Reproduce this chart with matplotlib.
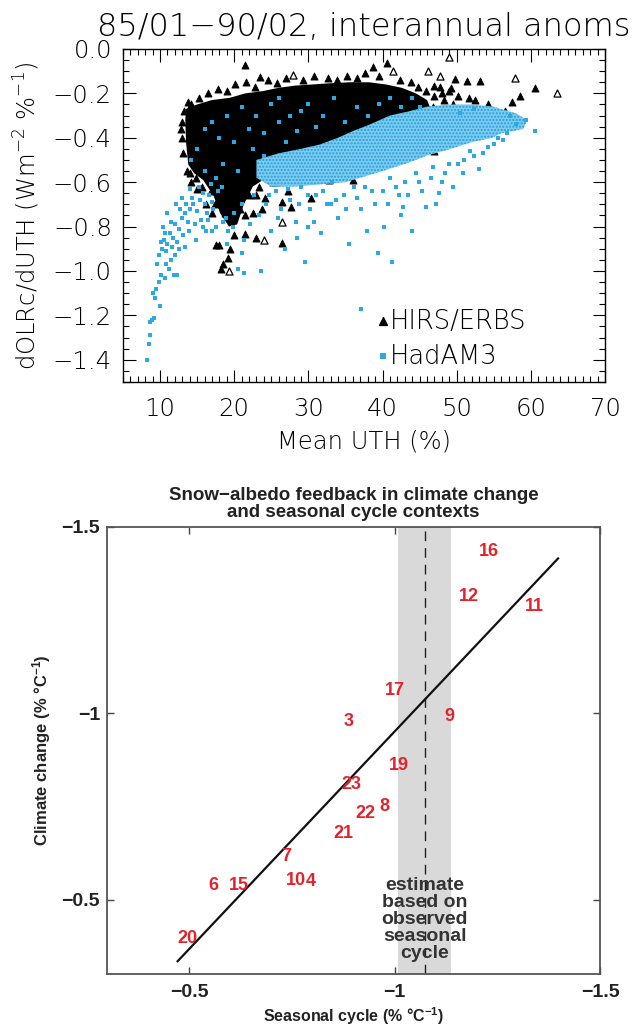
import numpy as np
import matplotlib
matplotlib.use("Agg")
import matplotlib.pyplot as plt
from matplotlib.patches import Polygon

plt.rcParams["mathtext.default"] = "regular"

# ---------------- top panel data ----------------
# outline of the dense HIRS/ERBS cloud (Mean UTH %, dOLRc/dUTH)
hirs_core_x = [13.4, 13.5, 15.0, 17.0, 19.4, 21.5, 23.8, 26.0, 28.2, 30.5, 32.6, 35.5, 38.2,
               40.5, 42.6, 44.5, 46.0, 46.5, 45.5, 43.0, 40.0, 36.0, 33.0, 30.0, 27.1, 24.8,
               22.5, 21.3, 20.4, 19.3, 18.1, 17.2, 15.8, 14.6, 13.8, 13.5]
hirs_core_y = [-0.32, -0.27, -0.25, -0.23, -0.22, -0.20, -0.19, -0.175, -0.165, -0.16, -0.155,
               -0.15, -0.15, -0.16, -0.175, -0.20, -0.23, -0.27, -0.31, -0.34, -0.38, -0.42,
               -0.45, -0.48, -0.52, -0.57, -0.62, -0.70, -0.79, -0.80, -0.74, -0.66, -0.59,
               -0.56, -0.52, -0.42]
# individual HIRS/ERBS triangles outside the dense cloud (filled)
hirs_x = [21.4, 23.5, 32.6, 38.7, 40.6, 49.8, 51.4, 53.1, 58.6, 60.5, 52.5, 53.6, 49.2, 46.9, 47.8,
          46.9, 51.7, 45.6, 36.0, 32.6, 27.7, 26.5, 22.9, 21.5, 19.4, 18.0, 17.6, 19.1, 18.5,
          20.0, 21.5, 23.7, 24.2, 26.5, 30.4, 32.8, 38.2, 40.9, 27.2, 18.2,
          14.2, 15.3, 16.5, 17.8, 19.0, 20.1, 21.6, 22.8, 24.5, 25.8, 27.0, 29.3, 30.8, 33.8,
          35.2, 36.5, 37.6, 39.5, 42.3, 43.8, 44.8, 45.8, 47.0, 48.3, 49.5, 50.8, 47.5, 46.2,
          45.3, 44.2, 48.8, 52.0, 53.2, 55.0, 13.0, 12.9, 13.1, 13.6, 14.2, 15.0, 16.2, 17.0,
          34.5, 36.8, 39.0, 41.5, 43.0, 29.0, 31.5, 25.5, 23.0, 42.0, 44.5, 37.5, 35.0,
          14.0, 14.8, 15.6, 16.8, 17.4, 18.8, 20.8, 22.0, 23.4, 25.2, 26.0, 28.4, 29.8, 31.2,
          33.6, 34.8, 37.0, 38.8, 40.2, 41.8, 43.6, 45.2, 46.8, 48.0, 49.0, 50.2, 51.6, 54.2,
          56.5, 57.4, 12.8, 13.2, 13.8, 29.5, 22.5, 19.8]
hirs_y = [-0.072, -0.127, -0.13, -0.079, -0.064, -0.135, -0.144, -0.144, -0.214, -0.177, -0.23,
          -0.274, -0.176, -0.165, -0.17, -0.46, -0.27, -0.30, -0.59, -0.54, -0.71, -0.875, -0.85,
          -0.835, -0.90, -0.885, -0.885, -0.94, -0.97, -0.84, -0.75, -0.72, -0.67, -0.69, -0.67,
          -0.59, -0.51, -0.46, -0.64, -0.99,
          -0.25, -0.22, -0.20, -0.18, -0.19, -0.16, -0.15, -0.17, -0.14, -0.155, -0.13, -0.14,
          -0.12, -0.14, -0.12, -0.13, -0.11, -0.12, -0.14, -0.15, -0.17, -0.19, -0.21, -0.23,
          -0.25, -0.27, -0.29, -0.33, -0.36, -0.39, -0.30, -0.30, -0.33, -0.30, -0.33, -0.40,
          -0.47, -0.55, -0.60, -0.63, -0.70, -0.74,
          -0.47, -0.44, -0.45, -0.40, -0.42, -0.55, -0.52, -0.60, -0.66, -0.36, -0.34, -0.49, -0.53,
          -0.56, -0.58, -0.62, -0.64, -0.70, -0.74, -0.72, -0.66, -0.62, -0.60, -0.57, -0.56,
          -0.52, -0.50, -0.48, -0.56, -0.46, -0.42, -0.40, -0.37, -0.35, -0.30, -0.26, -0.20,
          -0.19, -0.21, -0.22, -0.25, -0.28, -0.24, -0.36, -0.28, -0.24, -0.48, -0.74, -0.66]
# open HIRS/ERBS triangles
hirs_open_x = [27.9, 41.4, 46.1, 47.8, 48.9, 57.8, 63.5, 26.5, 19.3, 24.0]
hirs_open_y = [-0.117, -0.099, -0.10, -0.121, -0.035, -0.13, -0.199, -0.78, -1.00, -0.86]

# outline of the dense HadAM3 band
had_band_x = [23.0, 26.0, 29.0, 31.6, 34.0, 36.0, 38.3, 41.0, 43.7, 46.0, 49.0, 52.0, 55.0, 58.0,
              59.5, 59.0, 56.0, 54.8, 52.0, 49.2, 46.0, 43.7, 40.0, 38.0, 35.0, 31.6, 28.0, 25.0, 23.0]
had_band_y = [-0.50, -0.47, -0.45, -0.43, -0.40, -0.37, -0.34, -0.30, -0.28, -0.26, -0.25, -0.25,
              -0.26, -0.29, -0.32, -0.36, -0.38, -0.40, -0.42, -0.45, -0.48, -0.51, -0.55, -0.57,
              -0.60, -0.61, -0.62, -0.62, -0.58]
# individual HadAM3 points outside the dense band
had_x = [8.3, 8.5, 8.7, 8.6, 8.9, 9.2, 9.1, 9.4, 9.8, 10.1, 10.6, 11.2, 11.9, 12.3, 10.0, 9.3,
         9.8, 10.2, 10.5, 11.0, 11.3, 11.8, 12.0, 12.6, 12.9, 13.3, 13.7, 14.1, 14.5, 15.0, 15.4,
         16.0, 16.6, 17.2, 13.0, 14.0, 15.2, 11.0, 12.2, 10.4, 16.5, 17.8,
         18.5, 19.2, 20.0, 21.0, 21.3, 22.1, 22.6, 23.4, 23.6, 24.3, 25.0, 25.6, 26.3, 26.9, 27.5,
         28.3, 29.0, 29.6, 30.2, 31.0, 31.7, 32.5, 33.2, 34.0, 34.8, 35.5, 36.2, 37.1, 37.9, 38.6,
         39.4, 40.2, 40.8, 41.3, 41.8, 42.5, 43.4, 44.0, 44.9, 45.8, 46.5, 47.6, 48.4, 49.5, 50.2,
         51.0, 52.3, 53.0, 54.2, 55.6, 56.8, 58.0, 59.3, 60.5, 57.2, 37.1, 20.5, 21.3,
         20.0, 22.0, 24.0, 26.0, 18.0, 23.0, 27.0, 16.0, 25.0, 29.0, 31.0, 45.0, 50.4, 52.3,
         19.0, 21.0, 17.0, 14.8, 33.0, 28.5, 30.0, 12.5, 11.5, 10.8, 15.8,
         15.0, 17.0, 19.0, 21.0, 22.5, 24.0, 26.0, 27.5, 28.5, 30.0, 32.0, 33.5, 35.0, 36.5,
         38.0, 39.5, 41.0, 42.5, 44.0, 18.5, 16.0, 20.5, 14.2,
         10.8, 11.6, 12.3, 13.1, 13.9, 14.7, 15.5, 16.3, 17.0, 12.7, 13.5, 14.3, 15.8, 16.9,
         17.6, 18.3, 11.5, 10.7, 10.1, 9.6, 12.0, 13.4, 14.8, 16.2, 17.5, 18.9, 19.9,
         24.7, 25.9, 27.2, 28.7, 29.9, 30.8, 32.0, 33.7, 35.1, 36.6, 37.6, 39.0, 40.0, 41.0,
         42.2, 43.0, 44.5, 45.3, 46.8, 48.0, 49.0, 50.8, 51.8, 53.5, 55.0, 56.3, 47.2, 42.8]
had_y = [-1.40, -1.33, -1.29, -1.23, -1.22, -1.21, -1.10, -1.08, -1.05, -1.02, -1.03, -0.99,
         -1.02, -1.02, -1.16, -1.12,
         -0.93, -0.90, -0.86, -0.88, -0.83, -0.85, -0.79, -0.81, -0.76, -0.74, -0.78, -0.72, -0.70,
         -0.73, -0.68, -0.70, -0.66, -0.72, -0.67, -0.63, -0.62, -0.74, -0.70, -0.80, -0.77, -0.64,
         -0.78, -0.82, -0.74, -0.70, -0.86, -0.79, -0.66, -0.75, -1.00, -0.70, -0.82, -0.64, -0.72,
         -0.90, -0.68, -0.78, -0.62, -0.96, -0.72, -0.66, -0.83, -0.70, -0.60, -0.76, -0.66, -0.88,
         -0.62, -0.72, -0.82, -0.64, -0.92, -0.80, -0.70, -0.96, -0.62, -0.75, -0.66, -0.82, -0.60,
         -0.71, -0.58, -0.65, -0.56, -0.62, -0.52, -0.50, -0.48, -0.54, -0.44, -0.40, -0.38, -0.34,
         -0.32, -0.37, -0.30, -1.17, -0.99, -1.01,
         -0.42, -0.36, -0.48, -0.33, -0.40, -0.30, -0.42, -0.36, -0.25, -0.28, -0.35, -0.26, -0.29,
         -0.27, -0.88, -0.92, -0.82, -0.86, -0.70, -0.85, -0.80, -0.90, -0.95, -0.97, -0.80,
         -0.45, -0.33, -0.30, -0.26, -0.45, -0.38, -0.22, -0.30, -0.37, -0.25, -0.30, -0.22, -0.33,
         -0.26, -0.30, -0.25, -0.22, -0.26, -0.22, -0.52, -0.55, -0.55, -0.50,
         -0.91, -0.89, -0.87, -0.84, -0.82, -0.79, -0.77, -0.74, -0.69, -0.72, -0.70, -0.67, -0.65,
         -0.61, -0.58, -0.62, -0.78, -0.83, -0.87, -0.97, -0.93, -0.89, -0.86, -0.82, -0.80, -0.76,
         -0.80,
         -0.66, -0.76, -0.63, -0.70, -0.66, -0.78, -0.64, -0.68, -0.72, -0.67, -0.62, -0.70, -0.64,
         -0.58, -0.66, -0.60, -0.56, -0.64, -0.53, -0.60, -0.52, -0.56, -0.46, -0.47, -0.43, -0.41,
         -0.70, -0.71]

# ---------------- bottom panel data ----------------
models = ["16", "12", "11", "17", "3", "9", "19", "23", "22", "8", "21", "7", "10", "4", "6", "15", "20"]
seasonal = [-1.23, -1.18, -1.34, -1.00, -0.887, -1.133, -1.011, -0.895, -0.930, -0.976, -0.875,
            -0.737, -0.760, -0.797, -0.558, -0.622, -0.495]
climate = [-1.434, -1.312, -1.285, -1.061, -0.979, -0.991, -0.861, -0.809, -0.730, -0.750, -0.678,
           -0.615, -0.552, -0.550, -0.538, -0.538, -0.395]
fit_x = [-0.472, -1.398]
fit_y = [-0.335, -1.415]
obs_low, obs_best, obs_high = -1.008, -1.073, -1.137

BLUE = "#2aa9e4"
RED = "#e3232b"

fig = plt.figure(figsize=(6.41, 10.29), dpi=100)

# ================= top panel =================
tf = ["DejaVu Sans"]
ax1 = fig.add_axes([0.1919, 0.6288, 0.7519, 0.3236])
ax1.fill(hirs_core_x, hirs_core_y, color="black", lw=0, zorder=1)
ax1.scatter(hirs_x, hirs_y, marker="^", s=26, c="black", lw=0.6, edgecolors="black", zorder=2)
ax1.add_patch(Polygon(np.column_stack([had_band_x, had_band_y]), closed=True,
                      facecolor="#7fcbef", edgecolor="#1f9fdc", hatch=".....", lw=0, zorder=3))
ax1.scatter(hirs_open_x, hirs_open_y, marker="^", s=26, facecolors="white",
            edgecolors="black", lw=0.9, zorder=4)
ax1.scatter(had_x, had_y, marker="s", s=6, c=BLUE, lw=0, zorder=5)

ax1.set_xlim(5, 70)
ax1.set_ylim(-1.5, 0.0)
ax1.set_xticks(np.arange(10, 71, 10))
ax1.set_xticks(np.arange(5, 71, 1), minor=True)
yt = [-1.4, -1.2, -1.0, -0.8, -0.6, -0.4, -0.2, 0.0]
ax1.set_yticks(yt)
ax1.set_yticks(np.arange(-1.5, 0.01, 0.05), minor=True)
ax1.set_yticklabels(["0.0" if v == 0 else "\u2212%.1f" % abs(v) for v in yt])
ax1.tick_params(which="both", direction="in", top=True, right=True, width=0.8)
ax1.tick_params(which="major", length=9)
ax1.tick_params(which="minor", length=4.5)
ax1.tick_params(axis="y", pad=8)
ax1.tick_params(axis="x", pad=11)
for lab in ax1.get_xticklabels() + ax1.get_yticklabels():
    lab.set_fontfamily(tf)
    lab.set_fontsize(17.5)
    lab.set_fontweight("light")
for s in ax1.spines.values():
    s.set_linewidth(1.0)
ax1.set_title("85/01\u221290/02, interannual anoms", fontsize=23, family=tf,
              fontweight="light", pad=9, x=0.5)
ax1.set_xlabel("Mean UTH (%)", fontsize=17.5, family=tf, fontweight="light", labelpad=6)
ax1.set_ylabel("dOLRc/dUTH (Wm$^{-2}$ %$^{-1}$)", fontsize=17.5, family=tf,
               fontweight="light", labelpad=8)
# legend
ax1.scatter([40.1], [-1.227], marker="^", s=32, c="black", zorder=6)
ax1.text(41.0, -1.227, "HIRS/ERBS", fontsize=18.5, family=tf, fontweight="light", va="center")
ax1.scatter([40.1], [-1.384], marker="s", s=22, c=BLUE, lw=0, zorder=6)
ax1.text(41.0, -1.384, "HadAM3", fontsize=18.5, family=tf, fontweight="light", va="center")

# ================= bottom panel =================
bf = ["Liberation Sans", "DejaVu Sans"]
ax2 = fig.add_axes([0.1669, 0.0532, 0.7691, 0.4349])
ax2.axvspan(obs_low, obs_high, color="#d9d9d9", lw=0, zorder=0)
ax2.axvline(obs_best, color="#222222", lw=1.0, ls=(0, (7, 5)), zorder=1)
ax2.plot(fit_x, fit_y, color="#111111", lw=1.6, zorder=2)
for m, sx, cy in zip(models, seasonal, climate):
    ax2.text(sx, cy, m, color=RED, fontsize=13, fontweight="bold", family=bf,
             ha="center", va="center", zorder=3)
ax2.text(obs_best, -0.446, "estimate\nbased on\nobserved\nseasonal\ncycle", ha="center",
         va="center", fontsize=14, fontweight="bold", family=bf, color="#333333",
         linespacing=1.0, zorder=3)
ax2.set_xlim(-0.3, -1.5)
ax2.set_ylim(-0.3, -1.5)
ax2.set_xticks([-0.5, -1, -1.5])
ax2.set_xticklabels(["\u22120.5", "\u22121", "\u22121.5"])
ax2.set_yticks([-0.5, -1, -1.5])
ax2.set_yticklabels(["\u22120.5", "\u22121", "\u22121.5"])
ax2.tick_params(direction="in", top=True, right=True, length=5, width=1.0, color="#444444")
ax2.tick_params(axis="x", pad=7)
ax2.tick_params(axis="y", pad=5)
for lab in ax2.get_xticklabels() + ax2.get_yticklabels():
    lab.set_fontfamily(bf)
    lab.set_fontsize(14)
    lab.set_fontweight("bold")
    lab.set_color("#222222")
for s in ax2.spines.values():
    s.set_linewidth(1.3)
    s.set_color("#555555")
ax2.set_title("Snow\u2212albedo feedback in climate change\nand seasonal cycle contexts",
              fontsize=13.5, fontweight="bold", family=bf, color="#222222", pad=7,
              linespacing=1.0)
ax2.set_xlabel("Seasonal cycle (% \u00b0C$^{-1}$)", fontsize=11.5, fontweight="bold",
               family=bf, color="#222222")
ax2.xaxis.set_label_coords(0.5, -0.094)
ax2.xaxis.label.set_va("center")
ax2.set_ylabel("Climate change (% \u00b0C$^{-1}$)", fontsize=12, fontweight="bold",
               family=bf, color="#222222")
ax2.yaxis.set_label_coords(-0.132, 0.5)
ax2.yaxis.label.set_va("center")

fig.savefig("out.png", dpi=100)
